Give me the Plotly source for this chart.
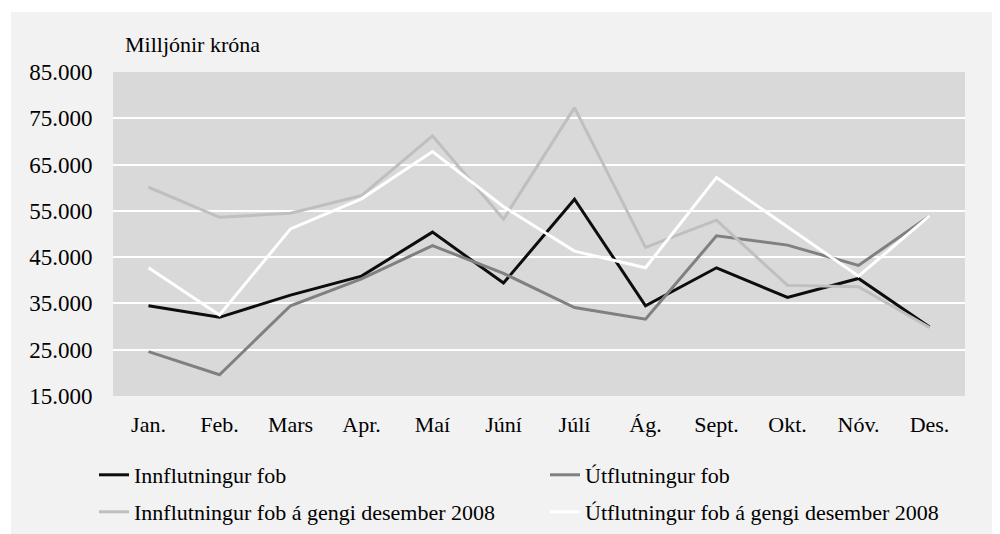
import plotly.graph_objects as go

months = ["Jan.", "Feb.", "Mars", "Apr.", "Maí", "Júní", "Júlí", "Ág.", "Sept.", "Okt.", "Nóv.", "Des."]
innflutningur = [34500, 32000, 36800, 40900, 50400, 39400, 57500, 34500, 42700, 36300, 40400, 29900]
utflutningur = [24600, 19600, 34500, 40300, 47500, 41500, 34100, 31600, 49600, 47600, 43200, 53900]
innflutningur_gengi = [60100, 53600, 54500, 58300, 71200, 53200, 77300, 47100, 53000, 38900, 38600, 29800]
utflutningur_gengi = [42700, 32500, 51100, 57600, 67800, 55900, 46300, 42700, 62200, 51500, 40900, 53900]

series_names = ["Innflutningur fob", "Útflutningur fob",
                "Innflutningur fob á gengi desember 2008", "Útflutningur fob á gengi desember 2008"]
series_values = [innflutningur, utflutningur, innflutningur_gengi, utflutningur_gengi]
colors = ["#0d0d0d", "#808080", "#bfbfbf", "#ffffff"]
legend_ids = ["legend", "legend2", "legend3", "legend4"]

FONT = "Liberation Serif, Times New Roman, serif"

fig = go.Figure()
for name, vals, col, lg in zip(series_names, series_values, colors, legend_ids):
    fig.add_trace(go.Scatter(x=months, y=vals, name=name, mode="lines",
                             line=dict(color=col, width=3), legend=lg))

W, H = 992, 534
L, T = 105, 64
pw, ph = 852, 324
R = W - L - pw
B = H - T - ph

def px_x(x):
    return (x - L) / pw

def px_y(y):
    return (H - B - y) / ph

def cx(x):
    return x / W

def cy(y):
    return (H - y) / H

legend_common = dict(orientation="h", bgcolor="rgba(0,0,0,0)",
                     font=dict(family=FONT, size=22, color="#000000"),
                     xref="container", yref="container",
                     xanchor="left", yanchor="middle", itemwidth=30)

# legend item anchor positions (figure pixels): two columns, two rows
legend_pos = [(86, 467), (537, 467), (86, 504), (537, 504)]

layout_legends = {lg: dict(**legend_common, x=cx(px), y=cy(py))
                  for lg, (px, py) in zip(legend_ids, legend_pos)}

fig.update_layout(
    width=W, height=H,
    margin=dict(l=L, r=R, t=T, b=B, autoexpand=False),
    paper_bgcolor="#ffffff",
    plot_bgcolor="#d9d9d9",
    separators=",.",
    font=dict(family=FONT, size=22, color="#000000"),
    showlegend=True,
    shapes=[dict(type="rect", xref="paper", yref="paper",
                 x0=px_x(3), x1=px_x(986), y0=px_y(540), y1=px_y(4),
                 fillcolor="#f2f2f2", line=dict(width=0), layer="below"),
            dict(type="rect", xref="paper", yref="paper",
                 x0=0, x1=1, y0=0, y1=1,
                 fillcolor="#d9d9d9", line=dict(width=0), layer="below")],
    annotations=[dict(text="Milljónir króna", xref="paper", yref="paper",
                      x=px_x(115), y=px_y(36), xanchor="left", yanchor="middle",
                      showarrow=False, font=dict(family=FONT, size=22, color="#000000"))],
    **layout_legends,
)

fig.update_xaxes(type="category", range=[-0.5, 11.5], showgrid=False, zeroline=False,
                 showline=False, ticks="outside", ticklen=9, tickcolor="rgba(0,0,0,0)",
                 tickfont=dict(family=FONT, size=22, color="#000000"))
fig.update_yaxes(range=[15000, 85000], tick0=15000, dtick=10000, tickformat=",.0f",
                 showgrid=True, gridcolor="#ffffff", gridwidth=1.5, zeroline=False,
                 showline=False, ticks="outside", ticklen=15, tickcolor="rgba(0,0,0,0)",
                 tickfont=dict(family=FONT, size=23, color="#000000"))

fig.write_html("out.html")
